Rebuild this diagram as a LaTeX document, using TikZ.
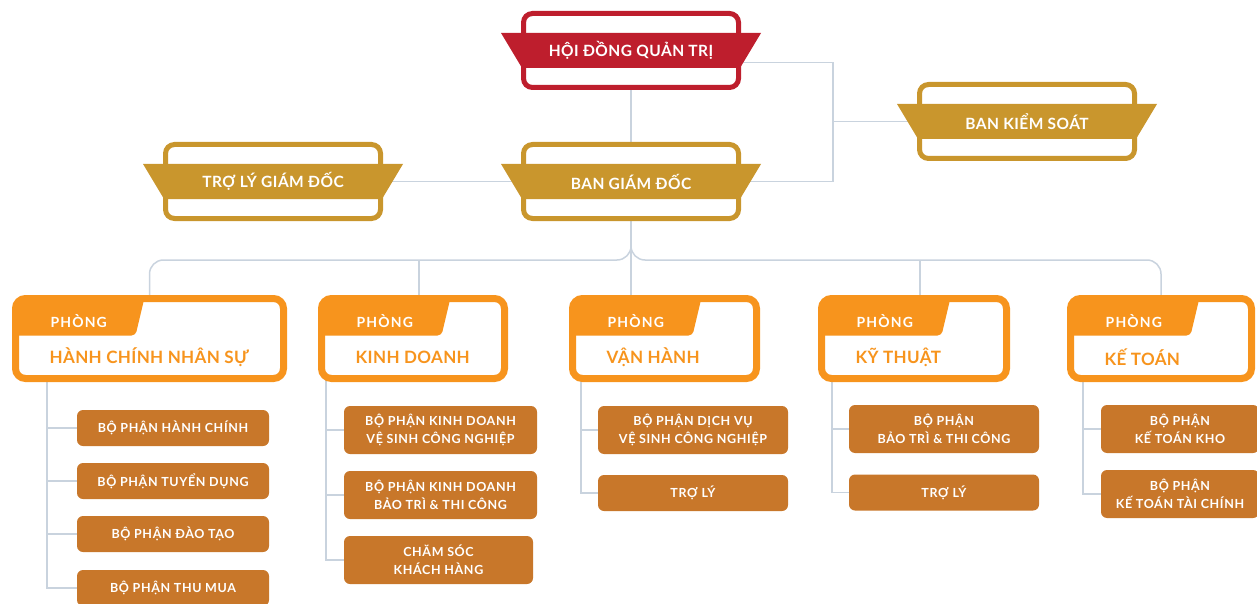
\documentclass[tikz,border=0pt]{standalone}
\usepackage{fontspec}
\setmainfont{Lato}
\usetikzlibrary{backgrounds}
\definecolor{hdred}{HTML}{BE1E2D}
\definecolor{gold}{HTML}{C9962D}
\definecolor{deptorange}{HTML}{F7941D}
\definecolor{subbrown}{HTML}{C8772A}
\definecolor{linkgrey}{HTML}{C9D3DE}
\begin{document}
\begin{tikzpicture}[x=1pt,y=-1pt,
  ribbonbox/.style={line width=5pt, rounded corners=9pt, fill=white, minimum width=215pt, minimum height=74pt, inner sep=0pt, outer sep=0pt},
  ribbontext/.style={text=white, inner sep=0pt, font=\bfseries\addfontfeature{LetterSpace=3}\fontsize{15.5}{18}\selectfont},
  deptbox/.style={draw=deptorange, line width=7pt, rounded corners=10pt, fill=white, minimum height=80pt, inner sep=0pt, outer sep=0pt,
    path picture={\fill[deptorange, rounded corners=4pt] ([xshift=-5pt,yshift=5pt]path picture bounding box.north west) -- ([xshift=130pt,yshift=5pt]path picture bounding box.north west) -- ([xshift=120pt,yshift=-37pt]path picture bounding box.north west) -- ([xshift=-5pt,yshift=-37pt]path picture bounding box.north west) -- cycle;}},
  tabtext/.style={anchor=west, text=white, inner sep=0pt, font=\bfseries\addfontfeature{LetterSpace=8}\fontsize{14}{16}\selectfont},
  depttext/.style={anchor=west, text=deptorange, inner sep=0pt, font=\bfseries\addfontfeature{LetterSpace=2}\fontsize{17}{20}\selectfont},
  subbox/.style={fill=subbrown, rounded corners=6pt, text=white, minimum width=192pt, minimum height=36pt, inner sep=0pt, outer sep=0pt, align=center, font=\bfseries\addfontfeature{LetterSpace=5}\fontsize{12.5}{18}\selectfont},
  link/.style={draw=linkgrey, line width=1.5pt}]
\useasboundingbox (0,0) rectangle (1257,604);
% top boxes with ribbons
\node[ribbonbox, draw=hdred] (hdqt) at (631,50.5) {};
\node[ribbonbox, draw=gold] (bks) at (1027,121.5) {};
\node[ribbonbox, draw=gold] (tlgd) at (273,181.5) {};
\node[ribbonbox, draw=gold] (bgd) at (631,181.5) {};
\foreach \b/\c in {hdqt/hdred, bks/gold, tlgd/gold, bgd/gold}
  \fill[\c] ([xshift=-130pt,yshift=17.5pt]\b.center) -- ([xshift=130pt,yshift=17.5pt]\b.center) -- ([xshift=109pt,yshift=-17.5pt]\b.center) -- ([xshift=-109pt,yshift=-17.5pt]\b.center) -- cycle;
\node[ribbontext] (hdqt-t) at (hdqt) {HỘI ĐỒNG QUẢN TRỊ};
\node[ribbontext] (bks-t) at (bks) {BAN KIỂM SOÁT};
\node[ribbontext] (tlgd-t) at (tlgd) {TRỢ LÝ GIÁM ĐỐC};
\node[ribbontext] (bgd-t) at (bgd) {BAN GIÁM ĐỐC};
\coordinate (bend) at (833,121.5);
\coordinate (bus) at (631,260);
% departments
\node[deptbox, minimum width=268pt] (hcns) at (149.5,338.5) {};
\node[deptbox, minimum width=183pt] (kd) at (413,338.5) {};
\node[deptbox, minimum width=184pt] (vh) at (664.5,338.5) {};
\node[deptbox, minimum width=185pt] (kth) at (914,338.5) {};
\node[deptbox, minimum width=181pt] (kt) at (1161,338.5) {};
\foreach \d/\t in {hcns/HÀNH CHÍNH NHÂN SỰ, kd/KINH DOANH, vh/VẬN HÀNH, kth/KỸ THUẬT, kt/KẾ TOÁN} {
  \node[tabtext] (\d-tab) at ([xshift=35pt,yshift=-22.5pt]\d.north west) {PHÒNG};
  \node[depttext] (\d-name) at ([xshift=34pt,yshift=-58.5pt]\d.north west) {\t};
}
% sub units
\node[subbox] (hcns1) at (173,428) {BỘ PHẬN HÀNH CHÍNH};
\node[subbox] (hcns2) at (173,481) {BỘ PHẬN TUYỂN DỤNG};
\node[subbox] (hcns3) at (173,534) {BỘ PHẬN ĐÀO TẠO};
\node[subbox] (hcns4) at (173,588) {BỘ PHẬN THU MUA};
\node[subbox, minimum height=48pt, minimum width=193pt] (kd1) at (440.5,430) {BỘ PHẬN KINH DOANH\\VỆ SINH CÔNG NGHIỆP};
\node[subbox, minimum height=48pt, minimum width=193pt] (kd2) at (440.5,495) {BỘ PHẬN KINH DOANH\\BẢO TRÌ \& THI CÔNG};
\node[subbox, minimum height=48pt, minimum width=189pt] (kd3) at (438.5,560) {CHĂM SÓC\\KHÁCH HÀNG};
\node[subbox, minimum height=48pt, minimum width=190pt] (vh1) at (693,430) {BỘ PHẬN DỊCH VỤ\\VỆ SINH CÔNG NGHIỆP};
\node[subbox, minimum width=190pt] (vh2) at (693,493) {TRỢ LÝ};
\node[subbox, minimum height=48pt, minimum width=190pt] (kth1) at (944,429) {BỘ PHẬN\\BẢO TRÌ \& THI CÔNG};
\node[subbox, minimum width=190pt] (kth2) at (944,492.5) {TRỢ LÝ};
\node[subbox, minimum height=48pt, minimum width=158pt] (kt1) at (1180,429) {BỘ PHẬN\\KẾ TOÁN KHO};
\node[subbox, minimum height=48pt, minimum width=158pt] (kt2) at (1180,494) {BỘ PHẬN\\KẾ TOÁN TÀI CHÍNH};
% connectors
\begin{scope}[on background layer]
\draw[link] (hdqt.south) -- (bgd.north);
\draw[link] ([yshift=-12pt]hdqt.east) -| (bend) |- (bgd.east);
\draw[link] (bend) -- (bks.west);
\draw[link] (tlgd.east) -- (bgd.west);
\draw[link, rounded corners=14pt] (bgd.south) |- (bus -| hcns.north) -- (hcns.north);
\draw[link, rounded corners=14pt] (bgd.south) |- (bus -| kt.north) -- (kt.north);
\draw[link] (bgd.south) -- (bgd.south |- vh.north);
\draw[link] ([xshift=6pt]bus -| kd.north) -- ([xshift=6pt]kd.north);
\draw[link] ([xshift=6pt]bus -| kth.north) -- ([xshift=6pt]kth.north);
\coordinate (hcns-spine) at ([xshift=-30pt]hcns1.west |- hcns.south);
\coordinate (kd-spine) at ([xshift=-18pt]kd1.west |- kd.south);
\coordinate (vh-spine) at ([xshift=-17pt]vh1.west |- vh.south);
\coordinate (kth-spine) at ([xshift=-17pt]kth1.west |- kth.south);
\coordinate (kt-spine) at ([xshift=-18pt]kt1.west |- kt.south);
\foreach \s in {hcns1,hcns2,hcns3,hcns4} \draw[link] (hcns-spine) |- (\s.west);
\foreach \s in {kd1,kd2,kd3} \draw[link] (kd-spine) |- (\s.west);
\foreach \s in {vh1,vh2} \draw[link] (vh-spine) |- (\s.west);
\foreach \s in {kth1,kth2} \draw[link] (kth-spine) |- (\s.west);
\foreach \s in {kt1,kt2} \draw[link] (kt-spine) |- (\s.west);
\end{scope}
\end{tikzpicture}
\end{document}
